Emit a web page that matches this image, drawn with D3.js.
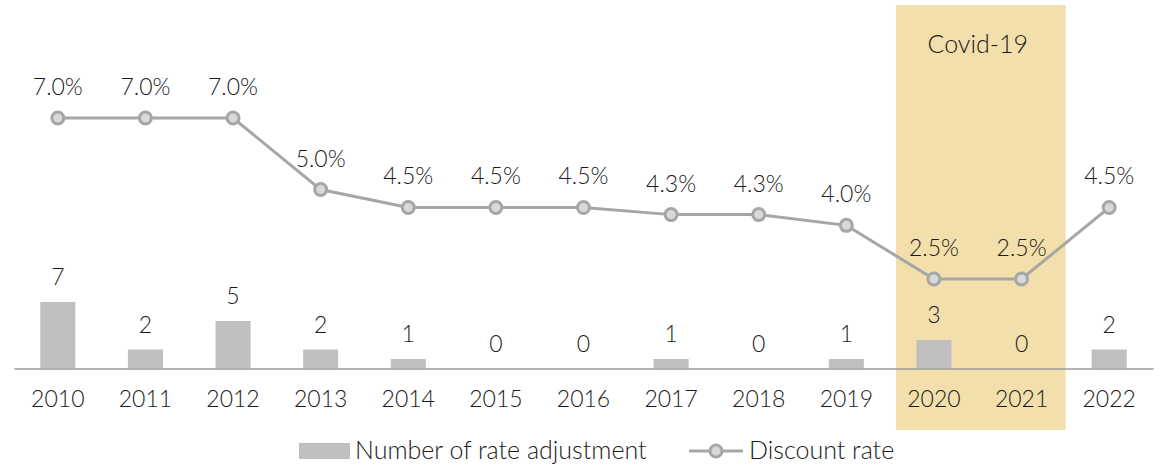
<!DOCTYPE html>
<html>
<head>
<meta charset="utf-8">
<script src="https://cdn.jsdelivr.net/npm/d3@7"></script>
<style>
  html, body { margin: 0; padding: 0; background: #fff; }
  svg { display: block; }
  text { font-family: Lato, "Open Sans", sans-serif; font-weight: 300; fill: #1a1a1a; }
</style>
</head>
<body>
<svg id="chart" width="1166" height="465"></svg>
<script>
// Yearly data
const years = ["2010","2011","2012","2013","2014","2015","2016","2017","2018","2019","2020","2021","2022"];
const adjustments = [7, 2, 5, 2, 1, 0, 0, 1, 0, 1, 3, 0, 2];
const discountRate = [7.0, 7.0, 7.0, 5.0, 4.5, 4.5, 4.5, 4.3, 4.3, 4.0, 2.5, 2.5, 4.5];
const highlightYears = ["2020", "2021"];
const highlightLabel = "Covid-19";
const legendLabels = ["Number of rate adjustment", "Discount rate"];

const svg = d3.select("#chart");

const x = d3.scaleBand()
  .domain(years)
  .range([14, 1153])
  .paddingInner(0.6)
  .paddingOuter(0.3);

const baseY = 368.5;
const yRate = d3.scaleLinear().domain([0, 7]).range([baseY, 118]);
const yBar = d3.scaleLinear().domain([0, 7]).range([baseY, 302]);

const cx = d => x(d) + x.bandwidth() / 2;
const barColor = "#bfbfc0";
const lineColor = "#a6a6a6";
const dotFill = "#d9d9d9";

// Highlighted period
const hx0 = cx(highlightYears[0]) - 38;
const hx1 = cx(highlightYears[1]) + 44;
svg.append("rect")
  .attr("x", hx0).attr("y", 5)
  .attr("width", hx1 - hx0).attr("height", 425)
  .attr("fill", "#f3dfab");
svg.append("text")
  .attr("x", (hx0 + hx1) / 2 - 3).attr("y", 53)
  .attr("text-anchor", "middle")
  .attr("font-size", 25)
  .text(highlightLabel);

// Bars
svg.append("g").selectAll("rect")
  .data(years)
  .join("rect")
  .attr("x", d => x(d))
  .attr("width", x.bandwidth())
  .attr("y", (d, i) => yBar(adjustments[i]))
  .attr("height", (d, i) => baseY - yBar(adjustments[i]))
  .attr("fill", barColor);

// Bar value labels
svg.append("g").selectAll("text")
  .data(years)
  .join("text")
  .attr("x", d => cx(d))
  .attr("y", (d, i) => yBar(adjustments[i]) - 17)
  .attr("text-anchor", "middle")
  .attr("font-size", 23)
  .text((d, i) => adjustments[i]);

// Baseline axis
const axis = svg.append("g")
  .attr("transform", `translate(0,${baseY})`)
  .call(d3.axisBottom(x).tickSize(0).tickPadding(20));
axis.select(".domain").attr("stroke", "#9d9d9d").attr("stroke-width", 1.5);
axis.selectAll("text")
  .attr("font-size", 23)
  .attr("font-family", "Lato, 'Open Sans', sans-serif")
  .attr("fill", "#1a1a1a")
  .attr("dy", "0.71em")
  .attr("y", 22);

// Discount rate line
const line = d3.line()
  .x((d, i) => cx(years[i]))
  .y(d => yRate(d));
svg.append("path")
  .datum(discountRate)
  .attr("d", line)
  .attr("fill", "none")
  .attr("stroke", lineColor)
  .attr("stroke-width", 3);

svg.append("g").selectAll("circle")
  .data(discountRate)
  .join("circle")
  .attr("cx", (d, i) => cx(years[i]))
  .attr("cy", d => yRate(d))
  .attr("r", 6)
  .attr("fill", dotFill)
  .attr("stroke", lineColor)
  .attr("stroke-width", 3);

svg.append("g").selectAll("text")
  .data(discountRate)
  .join("text")
  .attr("x", (d, i) => cx(years[i]))
  .attr("y", d => yRate(d) - 23)
  .attr("text-anchor", "middle")
  .attr("font-size", 23)
  .text(d => d.toFixed(1) + "%");

// Legend
const legend = svg.append("g");
legend.append("rect")
  .attr("x", 299).attr("y", 443)
  .attr("width", 51).attr("height", 16)
  .attr("fill", barColor);
legend.append("text")
  .attr("x", 355).attr("y", 459)
  .attr("font-size", 25)
  .text(legendLabels[0]);
legend.append("line")
  .attr("x1", 689).attr("x2", 743)
  .attr("y1", 451).attr("y2", 451)
  .attr("stroke", lineColor).attr("stroke-width", 3);
legend.append("circle")
  .attr("cx", 716).attr("cy", 451).attr("r", 6)
  .attr("fill", dotFill)
  .attr("stroke", lineColor).attr("stroke-width", 3);
legend.append("text")
  .attr("x", 749).attr("y", 459)
  .attr("font-size", 25)
  .text(legendLabels[1]);
</script>
</body>
</html>
